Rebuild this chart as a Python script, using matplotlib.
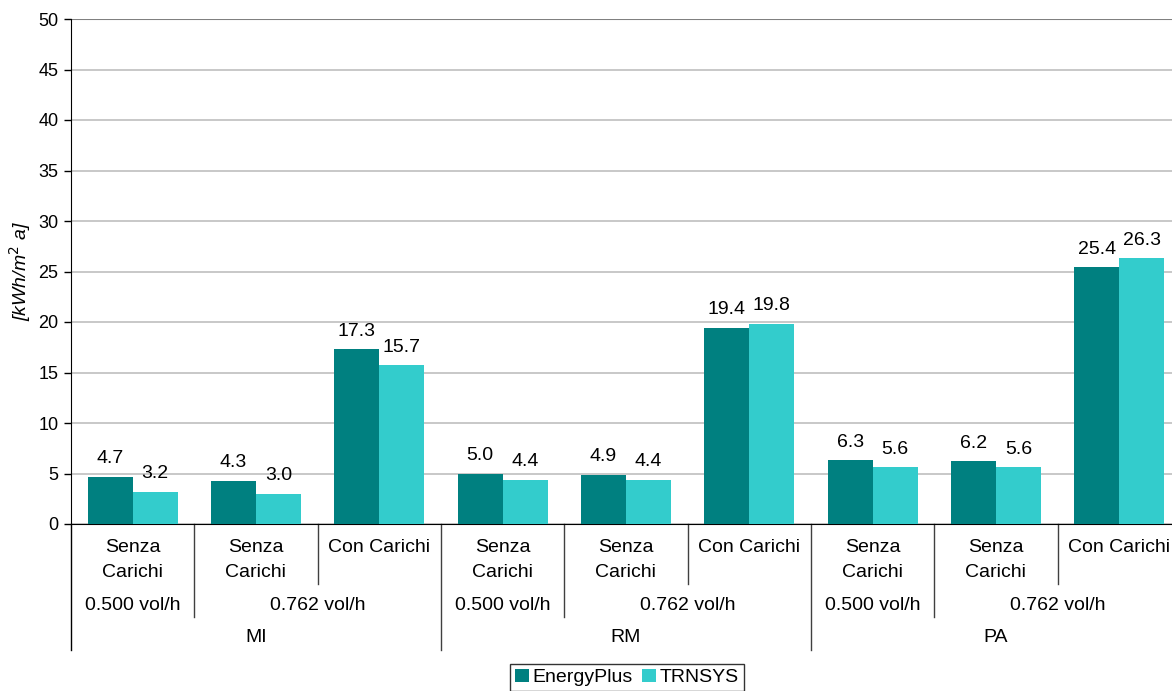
import matplotlib
matplotlib.use("Agg")
import matplotlib.pyplot as plt
import matplotlib.transforms as mtransforms
from matplotlib.patches import Patch

plt.rcParams['font.family'] = ['Liberation Sans', 'DejaVu Sans']

level1 = ["Senza\nCarichi", "Senza\nCarichi", "Con Carichi",
          "Senza\nCarichi", "Senza\nCarichi", "Con Carichi",
          "Senza\nCarichi", "Senza\nCarichi", "Con Carichi"]
level2 = [("0.500 vol/h", 0, 0), ("0.762 vol/h", 1, 2),
          ("0.500 vol/h", 3, 3), ("0.762 vol/h", 4, 5),
          ("0.500 vol/h", 6, 6), ("0.762 vol/h", 7, 8)]
level3 = [("MI", 0, 2), ("RM", 3, 5), ("PA", 6, 8)]
energyplus = [4.7, 4.3, 17.3, 5.0, 4.9, 19.4, 6.3, 6.2, 25.4]
trnsys = [3.2, 3.0, 15.7, 4.4, 4.4, 19.8, 5.6, 5.6, 26.3]
series_names = ["EnergyPlus", "TRNSYS"]
colors = ["#008080", "#33CCCC"]

FS = 14

fig = plt.figure(figsize=(11.72, 6.91), dpi=100)
ax = fig.add_axes([71/1172, 1 - 524/691, 1110/1172, 505/691])

n = len(energyplus)
x = list(range(n))
w = 0.365
b1 = ax.bar([i - w/2 for i in x], energyplus, width=w, color=colors[0], zorder=3)
b2 = ax.bar([i + w/2 for i in x], trnsys, width=w, color=colors[1], zorder=3)
for bars, vals in ((b1, energyplus), (b2, trnsys)):
    for r, v in zip(bars, vals):
        ax.annotate(f"{v:.1f}", (r.get_x() + r.get_width()/2, v),
                    xytext=(0, 7), textcoords="offset points",
                    ha="center", va="bottom", fontsize=FS, color="black")

ax.set_xlim(-0.5, n - 0.5)
ax.set_ylim(0, 50)
ax.set_yticks(range(0, 51, 5))
ax.tick_params(axis='y', labelsize=13, length=5, width=1, color='black', pad=4)
ax.set_xticks([])
ax.yaxis.grid(True, color='#BFBFBF', linewidth=1.2, zorder=0)
ax.set_axisbelow(True)
for s in ("top", "right"):
    ax.spines[s].set_visible(False)
ax.spines['left'].set_color('black')
ax.spines['bottom'].set_color('black')
ax.axhline(50, color='#808080', linewidth=1.5, zorder=1)

ax.set_ylabel("[kWh/m$^2$ a]", fontsize=FS, style='italic', labelpad=4)

tr = mtransforms.blended_transform_factory(ax.transData, ax.transAxes)
h = 505.0
def yy(px):
    return -(px - 524) / h

# separators
l1_end, l2_end, l3_end = yy(584), yy(617), yy(650)
bounds = [i - 0.5 for i in range(n + 1)]
l2_bounds = set()
for _, a, b in level2:
    l2_bounds.add(a - 0.5); l2_bounds.add(b + 0.5)
l3_bounds = set()
for _, a, b in level3:
    l3_bounds.add(a - 0.5); l3_bounds.add(b + 0.5)
for bx in bounds:
    if bx in l3_bounds:
        end = l3_end
    elif bx in l2_bounds:
        end = l2_end
    else:
        end = l1_end
    if bx >= n - 0.5:
        continue
    ax.plot([bx, bx], [0, end], transform=tr, color='#404040' if bx > -0.5 else 'black',
            linewidth=1, clip_on=False)

for i, lab in enumerate(level1):
    ax.text(i, yy(539), lab, transform=tr, ha='center', va='top', fontsize=FS,
            linespacing=1.65)
for lab, a, b in level2:
    ax.text((a + b) / 2, yy(605), lab, transform=tr, ha='center', va='center', fontsize=FS)
for lab, a, b in level3:
    ax.text((a + b) / 2, yy(638), lab, transform=tr, ha='center', va='center', fontsize=FS)

handles = [Patch(facecolor=c, edgecolor='none') for c in colors]
leg = fig.legend(handles, series_names, loc='upper center', bbox_to_anchor=(627/1172, 1 - 664/691),
                 ncol=2, fontsize=FS, frameon=True, fancybox=False, handlelength=0.7,
                 handleheight=0.7, handletextpad=0.2, columnspacing=0.5, borderpad=0.25,
                 borderaxespad=0)
leg.get_frame().set_edgecolor('black')
leg.get_frame().set_linewidth(1)

fig.savefig("out.png", dpi=100)
